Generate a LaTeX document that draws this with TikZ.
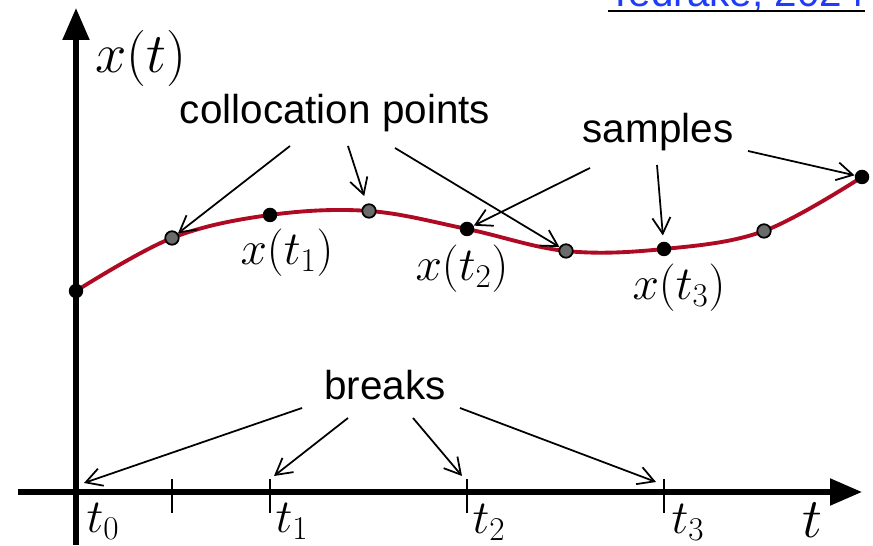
\RequirePackage{fix-cm}
\documentclass[tikz,border=0pt]{standalone}
\usepackage{fontspec}
\setsansfont{Liberation Sans}
\usetikzlibrary{arrows.meta}
\definecolor{curvered}{RGB}{175,10,35}
\definecolor{linkblue}{RGB}{30,60,250}

\begin{document}
\begin{tikzpicture}[
  pt/.style={circle, fill=black, inner sep=0pt, minimum size=0.29cm},
  cpt/.style={circle, draw=black, line width=1pt, fill=black!58, inner sep=0pt, minimum size=0.27cm},
  ptr/.style={-{Straight Barb[length=0.32cm,width=0.36cm]}, line width=1pt},
  lbl/.style={font=\fontsize{27}{31}\selectfont},
  biglbl/.style={font=\fontsize{32}{36}\selectfont},
  txt/.style={font=\sffamily\fontsize{23}{27}\selectfont},
  ax/.style={line width=3pt, -{Triangle[length=0.64cm,width=0.52cm]}}
]
\useasboundingbox (0,0) rectangle (17.46,10.92);
\node[txt, text=linkblue, anchor=base east, inner sep=0pt] at (17.30,10.78) (ref) {Tedrake, 2024};
\draw[line width=1.3pt] (ref.base west) ++(0,-0.08) coordinate (ul) -- (ul -| ref.base east);

\coordinate (yb) at (1.52,0.02);
\coordinate (yt) at (1.52,10.76);
\coordinate (xl) at (0.36,1.08);
\coordinate (xr) at (17.24,1.08);
\draw[ax] (yb) -- (yt);
\draw[ax] (xl) -- (xr);
\foreach \x/\n in {3.44/k0, 5.40/k1, 9.34/k2, 13.28/k3}
  \draw[line width=1.2pt] (\x,0.66) coordinate (\n) -- (\x,1.34);

\node[biglbl] at (2.82,9.76) (xt) {$x(t)$};
\node[biglbl] at (16.24,0.52) (tt) {$t$};
\node[lbl] at (2.06,0.50) (t0) {$t_0$};
\node[lbl] at (5.84,0.50) (t1) {$t_1$};
\node[lbl] at (9.78,0.48) (t2) {$t_2$};
\node[lbl] at (13.76,0.48) (t3) {$t_3$};

\draw[curvered, line width=2.2pt] plot[smooth, tension=0.6] coordinates
  {(1.52,5.10) (3.44,6.16) (5.40,6.62) (7.38,6.70) (9.34,6.34) (11.32,5.90) (13.28,5.94) (15.28,6.30) (17.24,7.38)};

\node[pt] at (1.52,5.10) (p0) {};
\node[cpt] at (3.44,6.16) (c1) {};
\node[pt] at (5.40,6.62) (p1) {};
\node[cpt] at (7.38,6.70) (c2) {};
\node[pt] at (9.34,6.34) (p2) {};
\node[cpt] at (11.32,5.90) (c3) {};
\node[pt] at (13.28,5.94) (p3) {};
\node[cpt] at (15.28,6.30) (c4) {};
\node[pt] at (17.24,7.38) (p4) {};

\node[lbl] at (5.74,5.86) (xt1) {$x(t_1)$};
\node[lbl] at (9.24,5.54) (xt2) {$x(t_2)$};
\node[lbl] at (13.58,5.16) (xt3) {$x(t_3)$};

\node[txt] at (6.70,8.66) (coll) {collocation points};
\node[txt] at (13.16,8.28) (smp) {samples};
\node[txt] at (7.70,3.22) (brk) {breaks};

\coordinate (a1) at (5.80,8.00);
\coordinate (a2) at (6.96,8.00);
\coordinate (a3) at (7.90,7.96);
\coordinate (b1) at (11.80,7.56);
\coordinate (b2) at (13.14,7.62);
\coordinate (b3) at (14.96,7.90);
\coordinate (d1) at (6.04,2.76);
\coordinate (d2) at (6.96,2.56);
\coordinate (d3) at (8.26,2.56);
\coordinate (d4) at (9.20,2.76);
\coordinate (e1) at (1.68,1.26);
\coordinate (e2) at (5.48,1.40);
\coordinate (e3) at (9.24,1.40);
\coordinate (e4) at (13.12,1.28);

\draw (a1) edge[ptr] (c1);
\draw (a2) edge[ptr, shorten >=0.16cm] (c2);
\draw (a3) edge[ptr] (c3);
\draw (b1) edge[ptr] (p2);
\draw (b2) edge[ptr, shorten >=0.12cm] (p3);
\draw (b3) edge[ptr] (p4);
\draw (d1) edge[ptr] (e1);
\draw (d2) edge[ptr] (e2);
\draw (d3) edge[ptr] (e3);
\draw (d4) edge[ptr] (e4);
\end{tikzpicture}
\end{document}
